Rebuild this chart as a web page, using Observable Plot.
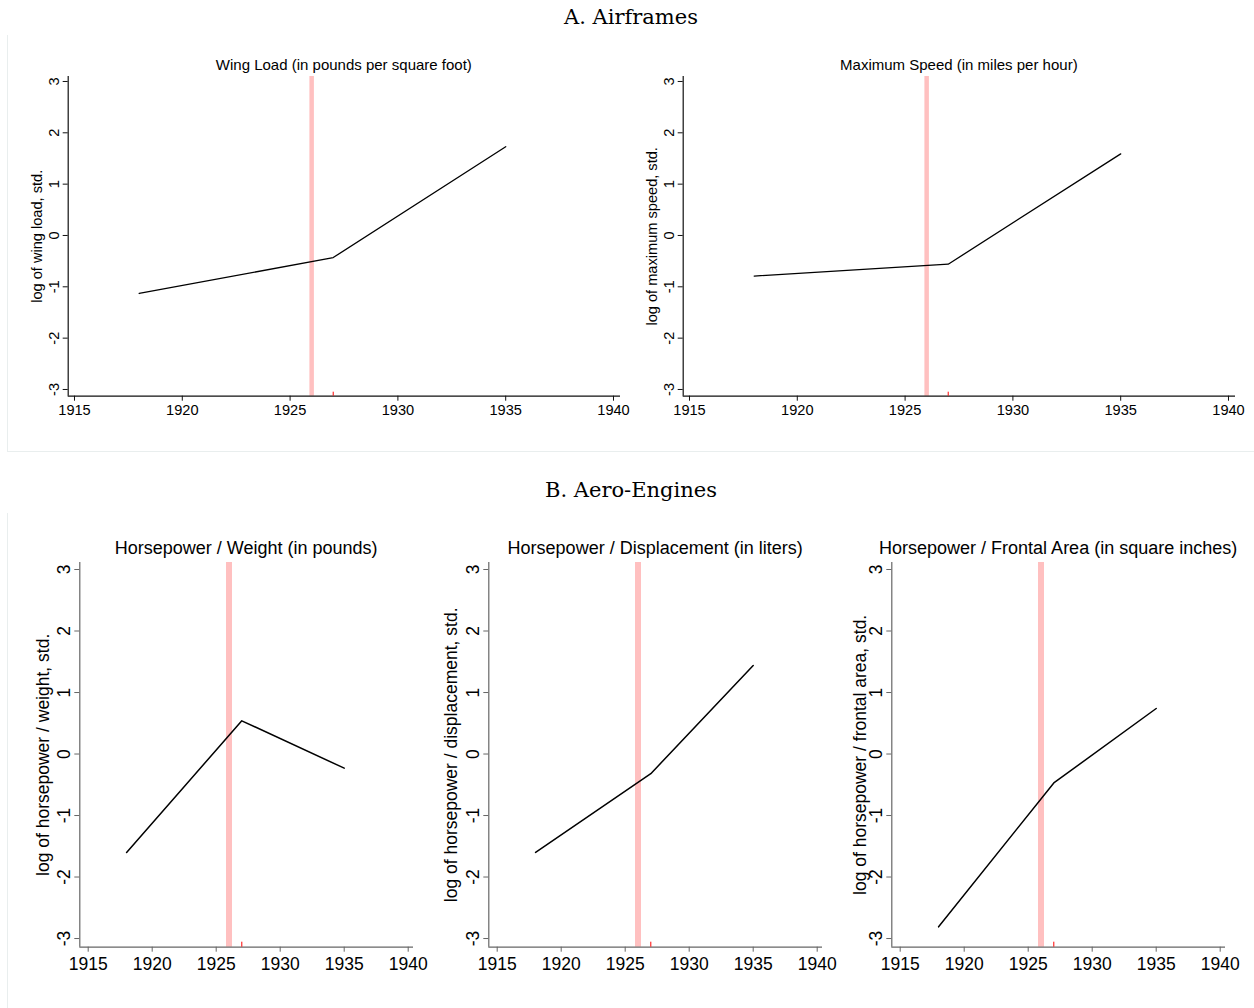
<!DOCTYPE html>
<html>
<head>
<meta charset="utf-8">
<script src="https://cdn.jsdelivr.net/npm/d3@7"></script>
<script src="https://cdn.jsdelivr.net/npm/@observablehq/plot@0.6"></script>
<style>
  html, body { margin: 0; padding: 0; background: #fff; }
  #root { position: relative; width: 1254px; height: 1008px; overflow: hidden; background: #fff; }
  .abs { position: absolute; }
  .sec { font-family: "DejaVu Serif", serif; font-size: 21px; color: #000; text-align: center; line-height: 22px; }
  .ttl { font-family: "Liberation Sans", Arial, sans-serif; color: #000; text-align: center; white-space: nowrap; }
  .box { border-left: 1px solid #e9eeee; border-bottom: 1px solid #e9eeee; }
</style>
</head>
<body>
<div id="root"></div>
<script>
// ---- data ----
const years = [1918, 1927, 1935];
const wingLoad = [-1.13, -0.43, 1.73];
const maxSpeed = [-0.79, -0.56, 1.59];
const hpWeight = [-1.60, 0.54, -0.23];
const hpDisplacement = [-1.60, -0.32, 1.44];
const hpFrontal = [-2.81, -0.47, 0.74];
const xTicks = [1915, 1920, 1925, 1930, 1935, 1940];
const yTicks = [-3, -2, -1, 0, 1, 2, 3];
const eventYear = [1926];   // pink vertical band
const markYear = [1927];    // small red tick on the x axis

const sectionTitles = ["A. Airframes", "B. Aero-Engines"];
const panelTitles = [
  "Wing Load (in pounds per square foot)",
  "Maximum Speed (in miles per hour)",
  "Horsepower / Weight (in pounds)",
  "Horsepower / Displacement (in liters)",
  "Horsepower / Frontal Area (in square inches)"
];
const yLabels = [
  "log of wing load, std.",
  "log of maximum speed, std.",
  "log of horsepower / weight, std.",
  "log of horsepower / displacement, std.",
  "log of horsepower / frontal area, std."
];
const seriesList = [wingLoad, maxSpeed, hpWeight, hpDisplacement, hpFrontal];

// ---- layout ----
const root = document.getElementById("root");
function addDiv(cls, text, css) {
  const d = document.createElement("div");
  d.className = "abs " + cls;
  d.textContent = text;
  Object.assign(d.style, css);
  root.appendChild(d);
  return d;
}

// faint panel frames
addDiv("box", "", {left: "7px", top: "35px", width: "1260px", height: "416px"});
addDiv("box", "", {left: "7px", top: "513px", width: "1260px", height: "520px"});

addDiv("sec", sectionTitles[0], {left: "0px", width: "1262px", top: "6px"});
addDiv("sec", sectionTitles[1], {left: "0px", width: "1262px", top: "479px"});

const A = {
  width: 640, height: 360, top: 70,
  marginLeft: 67.7, marginRight: 20, marginTop: 6, marginBottom: 34.3,
  xdomain: [1914.708, 1940.325], ydomain: [-3.131, 3.097],
  font: 14.6, titleFont: 15, axisColor: "#111", bandWidth: 4.5, lineWidth: 1.3,
  tickPadX: 3, tickPadY: 4, redLen: 4, titleTop: 56
};
const B = {
  width: 420, height: 437, top: 550,
  marginLeft: 79.3, marginRight: 7, marginTop: 12, marginBottom: 40.3,
  xdomain: [1914.344, 1940.414], ydomain: [-3.141, 3.114],
  font: 17.5, titleFont: 18, axisColor: "#666", bandWidth: 6, lineWidth: 1.5,
  tickPadX: 5, tickPadY: 5, redLen: 5, titleTop: 538
};

const panels = [
  {cfg: A, left: 0, labelOffset: 37},
  {cfg: A, left: 615, labelOffset: 37},
  {cfg: B, left: 0, labelOffset: 43},
  {cfg: B, left: 409, labelOffset: 44},
  {cfg: B, left: 812, labelOffset: 38.5}
];

panels.forEach((p, i) => {
  const c = p.cfg;
  const data = years.map((y, j) => ({year: y, value: seriesList[i][j]}));
  const frameH = c.height - c.marginTop - c.marginBottom;
  const chart = Plot.plot({
    width: c.width, height: c.height,
    marginLeft: c.marginLeft, marginRight: c.marginRight,
    marginTop: c.marginTop, marginBottom: c.marginBottom,
    style: {fontFamily: "'Liberation Sans', Arial, sans-serif", fontSize: c.font + "px", color: "#000", background: "transparent", overflow: "visible"},
    x: {domain: c.xdomain},
    y: {domain: c.ydomain},
    marks: [
      Plot.ruleX(eventYear, {stroke: "#ffc0c0", strokeWidth: c.bandWidth}),
      Plot.axisX({ticks: xTicks, tickFormat: d => String(d), tickSize: 5, tickPadding: c.tickPadX, stroke: c.axisColor, label: null}),
      Plot.axisY({ticks: yTicks, tickFormat: d => String(d), tickSize: 5, tickRotate: -90, tickPadding: c.tickPadY,
                  stroke: c.axisColor, label: yLabels[i], labelAnchor: "center", labelOffset: p.labelOffset, labelArrow: "none"}),
      Plot.ruleX([c.xdomain[0]], {stroke: c.axisColor, strokeWidth: 1.2}),
      Plot.ruleY([c.ydomain[0]], {stroke: c.axisColor, strokeWidth: 1.2}),
      Plot.ruleX(markYear, {stroke: "red", strokeWidth: 1, insetTop: frameH - c.redLen}),
      Plot.line(data, {x: "year", y: "value", stroke: "#000", strokeWidth: c.lineWidth})
    ]
  });
  chart.style.position = "absolute";
  chart.style.left = p.left + "px";
  chart.style.top = c.top + "px";
  root.appendChild(chart);

  const cx = p.left + (c.marginLeft + (c.width - c.marginRight)) / 2;
  addDiv("ttl", panelTitles[i], {left: (cx - 300) + "px", width: "600px", top: c.titleTop + "px", fontSize: c.titleFont + "px", lineHeight: (c.titleFont + 2) + "px"});
});
</script>
</body>
</html>
